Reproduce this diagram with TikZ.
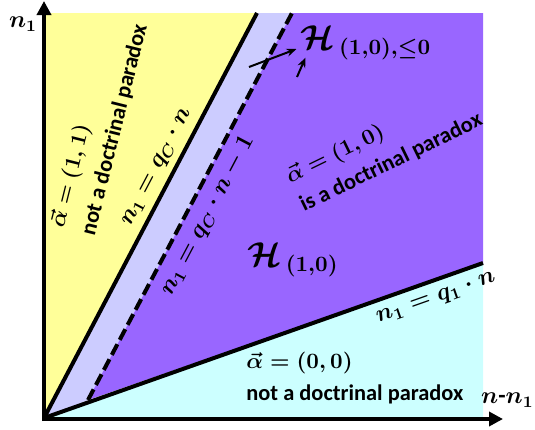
\documentclass[tikz,border=0pt]{standalone}
\usepackage[no-math]{fontspec}
\setmainfont{Carlito}
\usepackage{amsmath,bm}
\usetikzlibrary{arrows.meta}

\definecolor{yellowreg}{HTML}{FFFF99}
\definecolor{lavreg}{HTML}{CCCCFF}
\definecolor{purplereg}{HTML}{9966FF}
\definecolor{cyanreg}{HTML}{CCFFFF}

\tikzset{
  axis/.style={line width=2pt, -{Triangle[length=7pt,width=7pt]}},
  border/.style={line width=2pt},
  pointer/.style={line width=1pt, -{Stealth[length=5pt,width=4pt]}},
  regiontext/.style={font=\fontsize{11.2}{16}\selectfont\bfseries\boldmath, align=left, inner sep=0pt},
  linelabel/.style={font=\fontsize{12}{14}\selectfont\boldmath, sloped, inner sep=1pt},
  hlabel/.style={font=\fontsize{16}{19}\selectfont\boldmath, inner sep=0pt},
  axislabel/.style={font=\fontsize{12}{14}\selectfont\bfseries\boldmath, inner sep=0pt},
}

\begin{document}
\begin{tikzpicture}[x=0.5pt,y=-0.5pt]
  \useasboundingbox (0,0) rectangle (535,429);
  % corners of the regions
  \coordinate (O) at (44,418);
  \coordinate (Tc) at (257,13);
  \coordinate (Td) at (292,13);
  \coordinate (Dq) at (88,400);
  \coordinate (Rq) at (483,263);
  % regions
  \fill[yellowreg] (O) -- (44,13) -- (Tc) -- cycle;
  \fill[lavreg] (O) -- (Tc) -- (Td) -- (Dq) -- cycle;
  \fill[purplereg] (Dq) -- (Td) -- (483,13) -- (Rq) -- cycle;
  \fill[cyanreg] (O) -- (Rq) -- (483,418) -- cycle;
  % boundaries
  \draw[border] (O) -- (Tc)
    node[linelabel, pos=0.6, above=2pt] (qclab) {$n_1 = q_C\cdot n$};
  \draw[border, dash pattern=on 6pt off 2.5pt] (Dq) -- (Td)
    node[linelabel, pos=0.5, below=3pt] (qdlab) {$n_1 = q_C\cdot n - 1$};
  \draw[border] (O) -- (Rq)
    node[linelabel, pos=0.88, below=3pt] (q1lab) {$n_1 = q_1\cdot n$};
  % axes
  \draw[axis] (44,421) -- (44,1);
  \draw[axis] (42,419) -- (503,419);
  \node[axislabel] (ylab) at (23,24) {$n_1$};
  \node[axislabel, anchor=east] (xlab) at (534,400) {$n$-$n_1$};
  % region texts
  \node[regiontext, rotate=76] (yellowtxt) at (99,126) {$\vec{\alpha}=(1,1)$\\ not a doctrinal paradox};
  \node[regiontext, rotate=26] (purpletxt) at (384,148) {$\vec{\alpha}=(1,0)$\\ is a doctrinal paradox};
  \node[regiontext, anchor=west] (cyantxt) at (246,378) {$\vec{\alpha}=(0,0)$\\ not a doctrinal paradox};
  \node[hlabel] (Hmain) at (293,260) {$\mathcal{H}_{\,(1,0)}$};
  \node[hlabel] (Htop) at (366,43) {$\mathcal{H}_{\,(1,0),\le 0}$};
  % pointers to the top label
  \coordinate (a1) at (249,67);
  \coordinate (a2) at (297,77);
  \draw[pointer] (a1) -- ([shift={(-4,6)}]Htop.west);
  \draw[pointer] (a2) -- ([shift={(5,-3)}]Htop.south west);
\end{tikzpicture}
\end{document}
